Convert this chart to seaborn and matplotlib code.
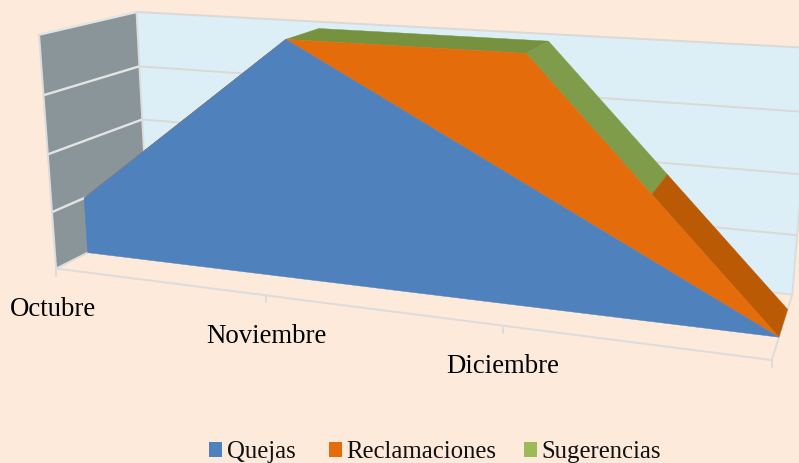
import numpy as np
import matplotlib
matplotlib.use("Agg")
import matplotlib.pyplot as plt
from matplotlib.legend import Legend
from matplotlib.patches import Patch
import seaborn as sns

# --- data ---
categories = ["Octubre", "Noviembre", "Diciembre", ""]
quejas = [1, 4, 2, 0]
reclamaciones = [0, 0, 2, 0]
sugerencias = [0, 0, 0, 0]
series_names = ["Quejas", "Reclamaciones", "Sugerencias"]
gridlines = [1, 2, 3, 4]

# --- style ---
BG = "#fdeadb"
sns.set_theme(style="white", rc={"figure.facecolor": BG, "axes.facecolor": BG})
plt.rcParams["font.family"] = ["Liberation Serif", "DejaVu Serif"]
palette = sns.color_palette(["#4f81bd", "#e46c0a", "#9bbb59"])
BACK_WALL, SIDE_WALL, GRID, SIDE_GRID = "#ddeff6", "#8a9599", "#dcd8d6", "#e4e4e4"
AXIS_LINE = "#dcdcdc"
TOP_DARK, TOP_GREEN, TOP_ORANGE = "#77923f", "#7f9c4a", "#bb5a05"
D_FRONT, D_BACK = 0.32, 0.75

# --- camera calibrated from the box of the 3D plot: (category, depth, value) -> pixel ---
anchors = [
    ((0, 0, 0), (56, 267)), ((3, 0, 0), (772, 360)), ((3, 1, 0), (793, 293)),
    ((0, 1, 0), (148, 225)), ((0, 0, 4), (39, 34)), ((0, 1, 4), (137, 12)),
    ((3, 1, 4), (812, 47)), ((0, 0, 2), (48, 154)), ((0, 1, 2), (142, 118)),
    ((3, 1, 2), (803, 174)), ((1, 0, 0), (266, 295)), ((2, 0, 0), (503, 327)),
    ((1, D_FRONT, 4), (285, 40)), ((2, D_FRONT, 4), (528, 55)),
    ((2, D_BACK, 4), (547, 42)), ((3, D_BACK, 0), (786, 310)),
]
rows = []
for (x, d, z), (u, v) in anchors:
    u, v = u / 800, v / 800
    rows.append([x, d, z, 1, 0, 0, 0, 0, -u * x, -u * d, -u * z, -u])
    rows.append([0, 0, 0, 0, x, d, z, 1, -v * x, -v * d, -v * z, -v])
CAMERA = np.linalg.svd(np.array(rows, float))[2][-1].reshape(3, 4)


def project(x, d, z):
    p = CAMERA @ np.array([x, d, z, 1.0])
    return p[0] / p[2] * 800, p[1] / p[2] * 800


def poly(pts):
    return np.array([project(*p) for p in pts])


fig = plt.figure(figsize=(7.99, 4.63), dpi=100, facecolor=BG)
ax = fig.add_axes([0, 0, 1, 1])
ax.set_xlim(0, 799)
ax.set_ylim(463, 0)
ax.axis("off")

XMAX = len(categories) - 1
ZMAX = max(gridlines)

# walls
xy = poly([(0, 1, 0), (XMAX, 1, 0), (XMAX, 1, ZMAX), (0, 1, ZMAX)])
ax.fill(xy[:, 0], xy[:, 1], color=BACK_WALL, lw=0, zorder=1)
xy = poly([(0, 0, 0), (0, 1, 0), (0, 1, ZMAX), (0, 0, ZMAX)])
ax.fill(xy[:, 0], xy[:, 1], color=SIDE_WALL, lw=0, zorder=1)

# gridlines
for g in gridlines:
    xy = poly([(0, 1, g), (XMAX, 1, g)])
    ax.plot(xy[:, 0], xy[:, 1], color=GRID, lw=1.4, zorder=2)
    xy = poly([(0, 0, g), (0, 1, g)])
    ax.plot(xy[:, 0], xy[:, 1], color=SIDE_GRID, lw=1.7, zorder=2)

# box edges
for a, b in [((0, 0, 0), (XMAX, 0, 0)), ((0, 0, 0), (0, 1, 0)),
             ((XMAX, 0, 0), (XMAX, 1, 0)), ((0, 1, 0), (XMAX, 1, 0)),
             ((0, 0, 0), (0, 0, ZMAX)), ((0, 1, 0), (0, 1, ZMAX)),
             ((XMAX, 1, 0), (XMAX, 1, ZMAX))]:
    xy = poly([a, b])
    ax.plot(xy[:, 0], xy[:, 1], color=AXIS_LINE, lw=1.4, zorder=2)

# ticks and category labels
for i, name in enumerate(categories):
    u, v = project(i, 0, 0)
    ax.plot([u, u], [v, v + 7], color=AXIS_LINE, lw=1.4, zorder=2)
    if name:
        ax.annotate(name, (u, v), xytext=(-2 if i == 0 else 0, -29.5), textcoords="offset points",
                    ha="center", va="center", fontsize=19.3, color="#000000")

# stacked area
x = np.arange(len(categories))
base = np.array(quejas, float)
mid = base + np.array(reclamaciones, float)
total = mid + np.array(sugerencias, float)


def top_at(v):
    return float(np.interp(v, x, total))


# top surface of the stack, coloured per stretch
for x0, x1, col in [(1, 2, TOP_DARK), (2, 2.5, TOP_GREEN), (2.5, 3, TOP_ORANGE)]:
    xy = poly([(x0, D_FRONT, top_at(x0)), (x1, D_FRONT, top_at(x1)),
               (x1, D_BACK, top_at(x1)), (x0, D_BACK, top_at(x0))])
    ax.fill(xy[:, 0], xy[:, 1], color=col, lw=0.3, ec=col, zorder=3)

# front faces
lower = np.zeros_like(base)
for upper, col, z in [(base, palette[0], 5), (mid, palette[1], 4)]:
    pts = [(i, D_FRONT, upper[i]) for i in x] + [(i, D_FRONT, lower[i]) for i in x[::-1]]
    xy = poly(pts)
    ax.fill(xy[:, 0], xy[:, 1], color=col, lw=0.3, ec=col, zorder=z)
    lower = upper

# legend: one entry per anchor so that the gaps follow the original
for c, n, left in zip(palette, series_names, [209, 329, 524]):
    leg = Legend(ax, [Patch(facecolor=c, edgecolor="none")], [n], frameon=False,
                 loc="lower left", bbox_to_anchor=(left / 799, -0.001), fontsize=17.8,
                 handlelength=0.52, handleheight=0.52, handletextpad=0.2,
                 borderpad=0, borderaxespad=0, labelcolor="#111111")
    ax.add_artist(leg)

fig.savefig("out.png", dpi=100, facecolor=BG)
